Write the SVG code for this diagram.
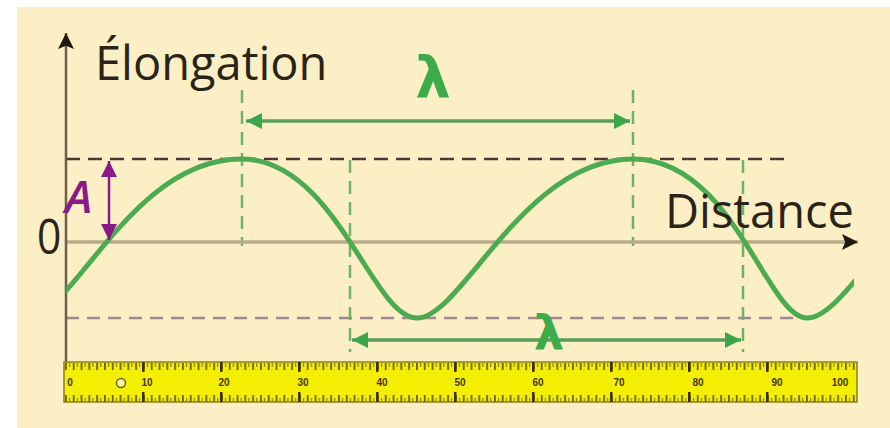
<svg xmlns="http://www.w3.org/2000/svg" width="890" height="428" viewBox="0 0 890 428">
<style>
.txt{font-family:"Open Sans","Liberation Sans",sans-serif;fill:#2a2418}
.lam{font-family:"DejaVu Sans",sans-serif;font-weight:bold;fill:#3dab4a;text-anchor:middle}
.gdash{stroke:#6cb26c;stroke-width:2.5;stroke-dasharray:13 8;fill:none}
.rnum{font-family:"Liberation Sans",sans-serif;font-weight:bold;font-size:10px;fill:#3f3606;text-anchor:middle}
</style>
<defs>
<marker id="ak" viewBox="0 0 10 10" refX="10" refY="5" markerUnits="userSpaceOnUse" markerWidth="20" markerHeight="16" orient="auto-start-reverse"><path d="M0,0 L10,5 L0,10 L2,5 z" fill="#1e1a10"/></marker>
<marker id="ag" viewBox="0 0 10 10" refX="10" refY="5" markerUnits="userSpaceOnUse" markerWidth="18" markerHeight="16" orient="auto-start-reverse"><path d="M0,0 L10,5 L0,10 z" fill="#3aa849"/></marker>
<marker id="ap" viewBox="0 0 10 10" refX="10" refY="5" markerUnits="userSpaceOnUse" markerWidth="18" markerHeight="16" orient="auto-start-reverse"><path d="M0,0 L10,5 L0,10 z" fill="#8a1a88"/></marker>
<clipPath id="wclip"><rect x="66" y="0" width="788" height="428"/></clipPath>
<pattern id="ticks" x="65" y="0" width="7.8" height="428" patternUnits="userSpaceOnUse"><rect x="0" y="363" width="1.8" height="7" fill="#6b6418"/><rect x="0" y="395" width="1.8" height="7" fill="#6b6418"/><rect x="3.9" y="363" width="1.2" height="4" fill="#8a8022"/><rect x="3.9" y="398" width="1.2" height="4" fill="#8a8022"/></pattern>
</defs>
<rect width="890" height="428" fill="#ffffff"/>
<rect x="17" y="7" width="873" height="421" fill="#fcefc6"/>

<g id="guides">
<line x1="66" y1="159" x2="792" y2="159" stroke="#4f343b" stroke-width="2.4" stroke-dasharray="14 8"/>
<line x1="66" y1="318" x2="800" y2="318" stroke="#a08790" stroke-width="2.4" stroke-dasharray="13 8"/>
<line class="gdash" x1="242" y1="90" x2="242" y2="246"/>
<line class="gdash" x1="633" y1="90" x2="633" y2="246"/>
<line class="gdash" x1="350" y1="160" x2="350" y2="352"/>
<line class="gdash" x1="743" y1="160" x2="743" y2="352"/>
</g>

<g id="axes">
<line x1="66" y1="242" x2="858" y2="242" stroke="#b9ac8a" stroke-width="3.5" marker-end="url(#ak)"/>
<line x1="66" y1="363" x2="66" y2="33" stroke="#6b5f4a" stroke-width="2.5" marker-end="url(#ak)"/>
</g>

<g id="wave">
<path d="M27,318 C72,318 131,159 241,159 C336,159 372,318 417,318 C462,318 523,159 633,159 C733,159 767,318 807,318 C852,318 913,159 1023,159" fill="none" stroke="#4aab50" stroke-width="5" clip-path="url(#wclip)"/>
</g>

<g id="connectors">
<line x1="246" y1="121" x2="630" y2="121" stroke="#5a9d5c" stroke-width="3.5" marker-start="url(#ag)" marker-end="url(#ag)"/>
<line x1="352" y1="340" x2="741" y2="340" stroke="#5a9d5c" stroke-width="3.5" marker-start="url(#ag)" marker-end="url(#ag)"/>
<line x1="109" y1="161" x2="109" y2="240" stroke="#8a1a88" stroke-width="2.5" marker-start="url(#ap)" marker-end="url(#ap)"/>
</g>

<g id="labels">
<text class="txt" x="95" y="80" font-size="47">Élongation</text>
<text class="txt" x="665" y="228" font-size="47">Distance</text>
<text class="txt" x="37" y="254" font-size="50" transform="translate(37 0) scale(0.85 1) translate(-37 0)">0</text>
<text x="65" y="213" font-family="Open Sans,Liberation Sans,sans-serif" font-style="italic" font-weight="600" font-size="46" fill="#8a1a88">A</text>
<text class="lam" x="433" y="97" font-size="56">λ</text>
<text class="lam" x="549" y="350" font-size="48">λ</text>
</g>

<g id="ruler">
<rect x="64" y="362" width="793" height="40" fill="#f4ee00" stroke="#8a8022" stroke-width="1.5"/>
<rect x="64" y="362" width="793" height="40" fill="url(#ticks)"/>
<g fill="#3a3000">
<rect x="142" y="362" width="2.5" height="10"/><rect x="142" y="392" width="2.5" height="10"/>
<rect x="220" y="362" width="2.5" height="10"/><rect x="220" y="392" width="2.5" height="10"/>
<rect x="298" y="362" width="2.5" height="10"/><rect x="298" y="392" width="2.5" height="10"/>
<rect x="376" y="362" width="2.5" height="10"/><rect x="376" y="392" width="2.5" height="10"/>
<rect x="454" y="362" width="2.5" height="10"/><rect x="454" y="392" width="2.5" height="10"/>
<rect x="532" y="362" width="2.5" height="10"/><rect x="532" y="392" width="2.5" height="10"/>
<rect x="610" y="362" width="2.5" height="10"/><rect x="610" y="392" width="2.5" height="10"/>
<rect x="688" y="362" width="2.5" height="10"/><rect x="688" y="392" width="2.5" height="10"/>
<rect x="766" y="362" width="2.5" height="10"/><rect x="766" y="392" width="2.5" height="10"/>
</g>
<circle cx="121" cy="383" r="4.5" fill="#f8f4a0" stroke="#6b6418" stroke-width="1.5"/>
<text class="rnum" x="70" y="386">0</text>
<text class="rnum" x="147" y="386">10</text>
<text class="rnum" x="224" y="386">20</text>
<text class="rnum" x="303" y="386">30</text>
<text class="rnum" x="382" y="386">40</text>
<text class="rnum" x="460" y="386">50</text>
<text class="rnum" x="538" y="386">60</text>
<text class="rnum" x="619" y="386">70</text>
<text class="rnum" x="698" y="386">80</text>
<text class="rnum" x="777" y="386">90</text>
<text class="rnum" x="840" y="386">100</text>
</g>
</svg>
